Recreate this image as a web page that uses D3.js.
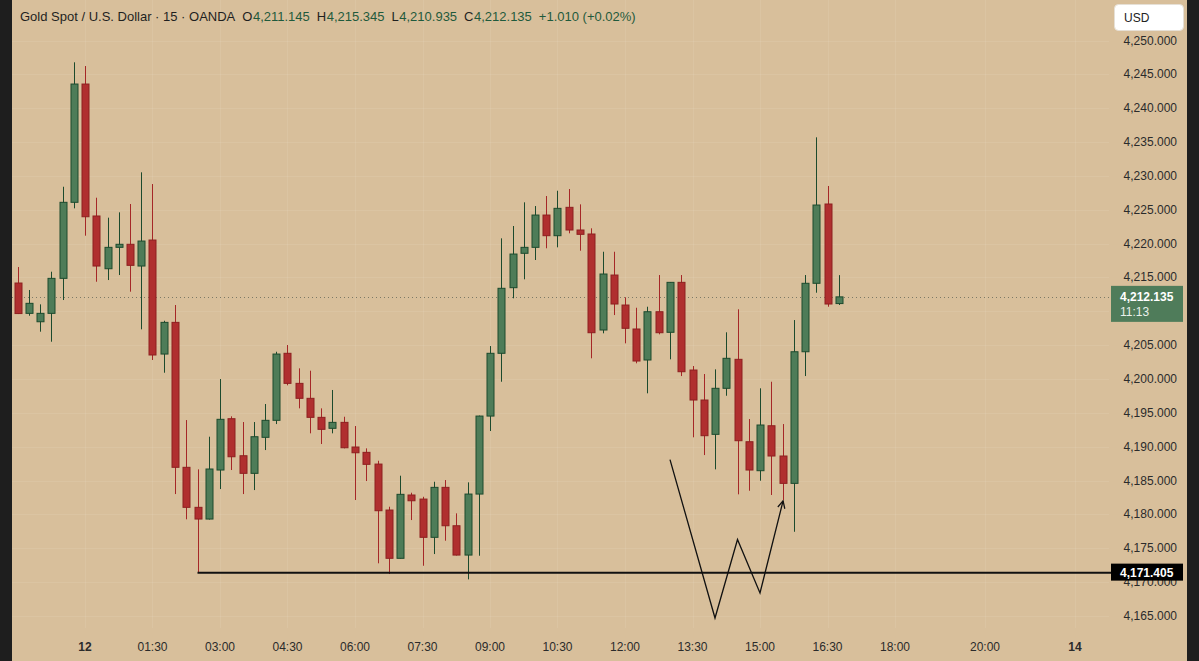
<!DOCTYPE html>
<head>
<meta charset="utf-8">
<title>Gold Spot / U.S. Dollar</title>
<style>
body { margin: 0; background: #1e1e1e; }
text { font-family: "Liberation Sans", Arial, sans-serif; }
.price-tick { font-size: 12px; fill: #2b2b2b; }
.time-tick { font-size: 12px; fill: #2b2b2b; }
</style>
</head>
<body>
<script src="https://cdnjs.cloudflare.com/ajax/libs/d3/7.8.5/d3.min.js"></script>
<script>

// OHLC, one entry per 15-minute bar (bar 6 = 00:00 on the 12th)
var opens  = [4214.18,4209.70,4208.46,4209.70,4214.87,4226.10,4243.57,4224.08,4216.29,4219.45,
              4219.90,4216.69,4220.53,4203.69,4208.37,4186.96,4181.05,4179.32,4186.56,4194.14,
              4188.67,4186.07,4191.39,4193.90,4203.80,4199.36,4197.15,4194.34,4192.72,4193.60,
              4189.96,4189.17,4187.44,4180.65,4173.52,4182.87,4182.27,4176.62,4184.00,4178.33,
              4174.00,4183.01,4194.53,4203.80,4213.49,4218.57,4219.45,4224.22,4221.17,4225.36,
              4222.01,4221.42,4207.24,4215.36,4210.93,4207.39,4202.81,4209.94,4206.90,4214.28,
              4201.33,4196.90,4191.83,4198.63,4202.91,4190.74,4186.46,4193.10,4188.63,4184.59,
              4204.03,4214.14,4225.85,4211.145];
var highs  = [4216.54,4213.15,4211.03,4215.85,4228.40,4246.78,4246.23,4226.78,4223.83,4224.62,
              4225.85,4230.53,4228.80,4208.61,4210.93,4193.94,4186.66,4191.48,4200.00,4194.49,
              4193.65,4193.65,4196.31,4204.03,4205.02,4201.58,4201.23,4195.67,4198.38,4194.43,
              4193.06,4189.76,4187.93,4181.14,4185.72,4183.21,4182.61,4184.83,4185.08,4180.16,
              4184.74,4194.60,4204.87,4220.78,4222.60,4226.10,4225.55,4227.03,4227.81,4228.06,
              4225.80,4222.26,4218.80,4218.80,4212.07,4210.53,4210.68,4215.36,4214.33,4215.36,
              4201.92,4200.74,4201.43,4206.90,4210.30,4194.09,4198.63,4199.60,4193.35,4208.71,
              4215.36,4235.70,4228.51,4215.345];
var lows   = [4209.60,4209.35,4206.99,4205.51,4211.67,4225.21,4221.17,4214.37,4214.62,4215.36,
              4212.90,4207.34,4202.81,4200.93,4183.01,4179.28,4171.405,4179.25,4183.75,4186.56,
              4183.01,4183.60,4189.51,4193.35,4199.07,4195.67,4191.98,4190.40,4191.98,4189.76,
              4182.13,4184.93,4172.78,4171.20,4173.50,4179.17,4172.42,4174.15,4176.12,4173.93,
              4170.41,4173.90,4192.32,4199.60,4211.92,4214.73,4217.58,4219.31,4219.45,4221.52,
              4218.95,4203.06,4206.75,4209.45,4205.27,4202.32,4197.89,4206.60,4202.91,4200.44,
              4191.39,4188.77,4186.66,4197.53,4182.97,4183.50,4184.98,4182.87,4182.13,4177.44,
              4200.44,4212.75,4210.68,4210.935];
var closes = [4209.67,4211.18,4209.70,4214.87,4226.10,4243.57,4223.97,4216.69,4219.45,4219.90,
              4216.79,4220.38,4203.55,4208.37,4186.96,4181.05,4179.32,4186.71,4194.05,4188.52,
              4186.07,4191.48,4193.90,4203.69,4199.36,4197.15,4194.34,4192.57,4193.60,4189.85,
              4189.11,4187.40,4180.55,4173.52,4182.97,4182.02,4176.62,4184.00,4178.33,4174.00,
              4183.01,4194.53,4203.80,4213.40,4218.46,4219.45,4224.22,4221.17,4225.21,4222.01,
              4221.37,4206.84,4215.51,4211.08,4207.49,4202.66,4209.94,4206.84,4214.28,4201.08,
              4196.90,4191.63,4198.63,4203.06,4190.89,4186.56,4193.21,4188.63,4184.59,4204.03,
              4214.14,4225.70,4211.08,4212.135];

// time axis: bar index -> label
var timeTickIdx    = [6, 12, 18, 24, 30, 36, 42, 48, 54, 60, 66, 72, 78, 86, 94];
var timeTickLabels = ["12","01:30","03:00","04:30","06:00","07:30","09:00","10:30","12:00","13:30","15:00","16:30","18:00","20:00","14"];

// price axis ticks (4,210 sits under the last-price tag and is not shown)
var priceTicks = [4165,4170,4175,4180,4185,4190,4195,4200,4205,4210,4215,4220,4225,4230,4235,4240,4245,4250];
var hiddenTicks = [4210];

// drawn objects
var lastPrice = 4212.135;
var supportLevel = 4171.405, supportStartIdx = 16;
var wIdx   = [58, 62, 64, 66, 68.05];
var wPrice = [4188.1, 4164.7, 4176.3, 4168.4, 4182.0];

// legend pieces: text, colour, gap before it
var headerText  = ["Gold Spot / U.S. Dollar · 15 · OANDA", "O", "4,211.145", "H", "4,215.345", "L", "4,210.935", "C", "4,212.135", "+1.010 (+0.02%)"];
var headerColor = ["#1f1f1f", "#1f1f1f", "#1f5a3c", "#1f1f1f", "#1f5a3c", "#1f1f1f", "#1f5a3c", "#1f1f1f", "#1f5a3c", "#1f5a3c"];
var headerGap   = [0, 7, 0.5, 7, 0.5, 7, 0.5, 7, 0.5, 7];

var width = 1199, height = 661;
var plotLeft = 12, plotRight = 1109, axisRight = 1187;
var bg = "#d8bf9b";
var upFill = "#4e7c58", upLine = "#1c4a2d", downFill = "#b02f2f", downLine = "#8d2020";

var svg = d3.select("body").append("svg")
    .attr("width", width)
    .attr("height", height)
    .style("display", "block");

svg.append("rect").attr("width", width).attr("height", height).attr("fill", "#1e1e1e");
svg.append("rect").attr("x", plotLeft).attr("y", 0)
    .attr("width", axisRight - plotLeft).attr("height", height).attr("fill", bg);

var x = d3.scaleLinear().domain([0, 94]).range([17.5, 1075]);
var y = d3.scaleLinear().domain([4165, 4250]).range([616, 40.5]);

svg.append("defs").append("clipPath").attr("id", "plot")
  .append("rect").attr("x", plotLeft).attr("y", 0)
  .attr("width", plotRight - plotLeft).attr("height", 628);

// grid
var grid = svg.append("g").attr("clip-path", "url(#plot)");
grid.selectAll(".hg").data(priceTicks).enter().append("line")
    .attr("x1", plotLeft).attr("x2", plotRight)
    .attr("y1", d => Math.round(y(d)) + 0.5).attr("y2", d => Math.round(y(d)) + 0.5)
    .attr("stroke", "rgba(255,255,255,0.08)");
grid.selectAll(".vg").data(timeTickIdx).enter().append("line")
    .attr("x1", d => Math.round(x(d)) + 0.5).attr("x2", d => Math.round(x(d)) + 0.5)
    .attr("y1", 0).attr("y2", 628)
    .attr("stroke", "rgba(255,255,255,0.08)");

// last price dotted line
svg.append("line")
    .attr("x1", plotLeft).attr("x2", 1111)
    .attr("y1", Math.round(y(lastPrice)) + 0.5).attr("y2", Math.round(y(lastPrice)) + 0.5)
    .attr("stroke", "#7d7a66").attr("stroke-dasharray", "1,3");

// candles
var bars = d3.range(opens.length).map(function(i) {
  return {i: i, o: opens[i], h: highs[i], l: lows[i], c: closes[i], up: closes[i] >= opens[i]};
});

var candle = svg.append("g").attr("clip-path", "url(#plot)")
    .selectAll("g").data(bars).enter().append("g");

candle.append("line")
    .attr("x1", d => Math.round(x(d.i)) + 0.5).attr("x2", d => Math.round(x(d.i)) + 0.5)
    .attr("y1", d => y(d.h)).attr("y2", d => y(d.l))
    .attr("stroke", d => d.up ? upLine : "#a52727")
    .attr("stroke-width", 1);

candle.append("rect")
    .attr("x", d => Math.round(x(d.i)) - 3)
    .attr("width", 7)
    .attr("y", d => y(Math.max(d.o, d.c)))
    .attr("height", d => Math.max(1, y(Math.min(d.o, d.c)) - y(Math.max(d.o, d.c))))
    .attr("fill", d => d.up ? upFill : downFill)
    .attr("stroke", d => d.up ? upLine : downLine)
    .attr("stroke-width", 1);

// support line
svg.append("line")
    .attr("x1", x(supportStartIdx)).attr("x2", 1111)
    .attr("y1", y(supportLevel)).attr("y2", y(supportLevel))
    .attr("stroke", "#111").attr("stroke-width", 2);

// hand-drawn W with arrow
svg.select("defs").append("marker")
    .attr("id", "arrow").attr("viewBox", "0 0 10 10")
    .attr("refX", 9).attr("refY", 5)
    .attr("markerWidth", 9).attr("markerHeight", 9)
    .attr("markerUnits", "userSpaceOnUse")
    .attr("orient", "auto")
  .append("path").attr("d", "M1,1 L9,5 L1,9")
    .attr("fill", "none").attr("stroke", "#111").attr("stroke-width", 1.4);

var wLine = d3.line().x(d => x(d[0])).y(d => y(d[1]));
svg.append("path")
    .datum(d3.zip(wIdx, wPrice))
    .attr("d", wLine)
    .attr("fill", "none").attr("stroke", "#111").attr("stroke-width", 1.3)
    .attr("marker-end", "url(#arrow)");

// price axis labels
svg.selectAll(".price-tick").data(priceTicks.filter(d => hiddenTicks.indexOf(d) < 0)).enter().append("text")
    .attr("class", "price-tick")
    .attr("x", 1177).attr("y", d => y(d) + 4)
    .attr("text-anchor", "end")
    .text(d => d3.format(",.3f")(d));

// time axis labels
svg.selectAll(".time-tick").data(timeTickIdx).enter().append("text")
    .attr("class", "time-tick")
    .attr("x", d => x(d)).attr("y", 651)
    .attr("text-anchor", "middle")
    .style("font-weight", (d, i) => timeTickLabels[i].length <= 2 ? "bold" : "normal")
    .text((d, i) => timeTickLabels[i]);

// USD box
svg.append("rect").attr("x", 1114.5).attr("y", 4.5).attr("width", 69).attr("height", 26)
    .attr("rx", 4).attr("fill", "#fff").attr("stroke", "#e6e0d6");
svg.append("text").attr("x", 1124).attr("y", 21.5)
    .style("font-size", "12px").attr("fill", "#222").text("USD");

// last price label
svg.append("rect").attr("x", 1111).attr("y", y(lastPrice) - 11).attr("width", 72).attr("height", 36)
    .attr("fill", "#4f7c5a");
svg.append("text").attr("x", 1120).attr("y", y(lastPrice) + 4)
    .style("font-size", "12px").style("font-weight", "bold").attr("fill", "#fff")
    .text(d3.format(",.3f")(lastPrice));
svg.append("text").attr("x", 1120).attr("y", y(lastPrice) + 19)
    .style("font-size", "12px").attr("fill", "#e8f0ea").text("11:13");

// support label (covers the upper part of the 4,170 tick, as on the original)
svg.append("rect").attr("x", 1111).attr("y", y(supportLevel) - 9).attr("width", 72).attr("height", 17)
    .attr("fill", "#000");
svg.append("text").attr("x", 1120).attr("y", y(supportLevel) + 4.5)
    .style("font-size", "12px").style("font-weight", "bold").attr("fill", "#fff")
    .text(d3.format(",.3f")(supportLevel));

// header legend, pieces laid out one after another
var hx = 20;
headerText.forEach(function(t, i) {
  hx += headerGap[i];
  var node = svg.append("text")
      .attr("x", hx).attr("y", 21)
      .style("font-size", "13px")
      .attr("fill", headerColor[i])
      .text(t);
  hx += node.node().getComputedTextLength();
});

</script>
</body>
</html>
